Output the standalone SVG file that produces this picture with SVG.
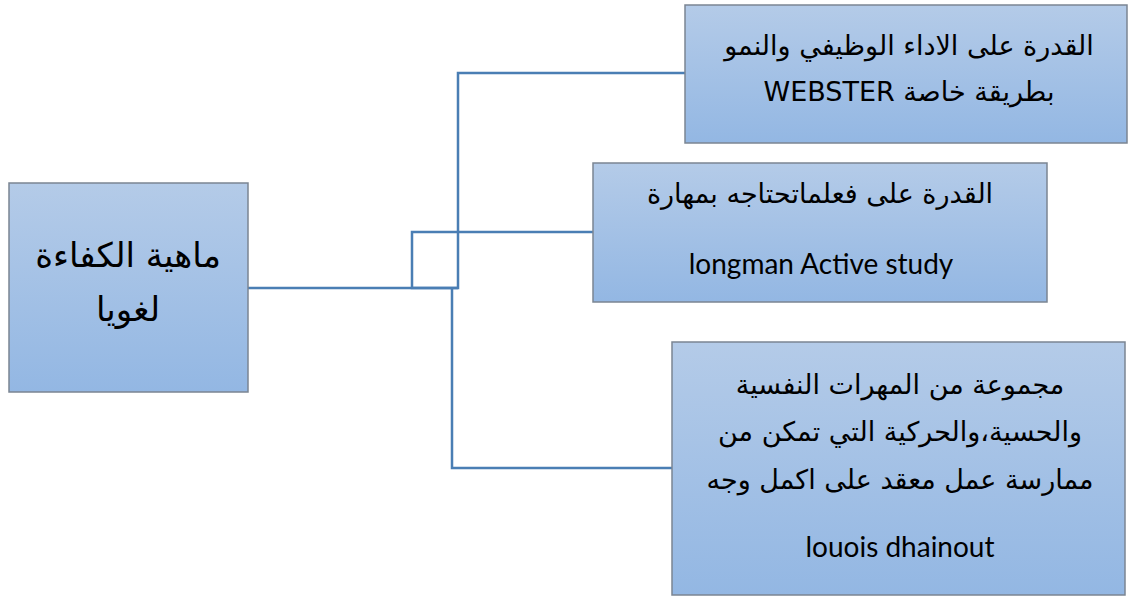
<svg xmlns="http://www.w3.org/2000/svg" width="1132" height="598" viewBox="0 0 1132 598">
<defs>
<linearGradient id="g" x1="0" y1="0" x2="0" y2="1">
<stop offset="0" stop-color="#b4cbe8"/>
<stop offset="1" stop-color="#93b7e3"/>
</linearGradient>
<style>
.box{fill:url(#g);stroke:#7b8592;stroke-width:1.5}
.ar{font-family:"DejaVu Sans",sans-serif;font-size:27px;fill:#000;text-anchor:middle;direction:rtl}
.la{font-family:Lato,"Liberation Sans",sans-serif;font-size:28px;fill:#000;text-anchor:middle}
.big{font-size:34px}
.con{fill:none;stroke:#4a7eb4;stroke-width:2.5}
</style>
</defs>
<g id="connectors">
<polyline class="con" points="248,288 458,288 458,73 685,73"/>
<polyline class="con" points="458,288 412,288 412,232 593,232"/>
<polyline class="con" points="452,288 452,468 672,468"/>
</g>
<g id="root">
<rect class="box" x="9" y="183" width="239" height="209"/>
<text class="ar big" x="128" y="267">ماهية الكفاءة</text>
<text class="ar big" x="128" y="321">لغويا</text>
</g>
<g id="n1">
<rect class="box" x="685" y="5" width="442" height="138"/>
<text class="ar" x="909" y="55">القدرة على الاداء الوظيفي والنمو</text>
<text class="ar" x="909" y="101">بطريقة خاصة WEBSTER</text>
</g>
<g id="n2">
<rect class="box" x="593" y="163" width="454" height="139"/>
<text class="ar" x="820" y="203">القدرة على فعلماتحتاجه بمهارة</text>
<text class="la" x="821" y="274">longman Active study</text>
</g>
<g id="n3">
<rect class="box" x="672" y="342" width="453" height="253"/>
<text class="ar" x="900" y="394">مجموعة من المهرات النفسية</text>
<text class="ar" x="900" y="441">والحسية،والحركية التي تمكن من</text>
<text class="ar" x="900" y="489">ممارسة عمل معقد على اكمل وجه</text>
<text class="la" x="900" y="557">louois dhainout</text>
</g>
</svg>
